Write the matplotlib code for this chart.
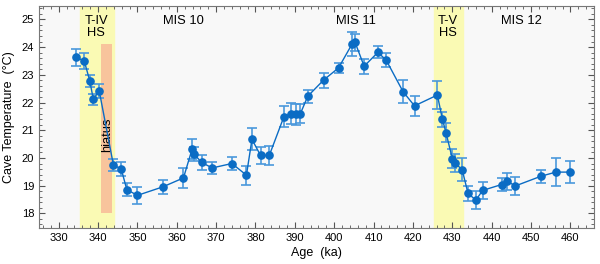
import matplotlib
matplotlib.use('Agg')
import matplotlib.pyplot as plt
from matplotlib.ticker import MultipleLocator

plt.rcParams['font.family'] = ['Liberation Sans', 'DejaVu Sans']

# Idade (ka), temperatura (°C) e incerteza
idade = [334.4, 336.5, 337.9, 338.8, 340.3, 343.9, 345.9, 347.3, 350.0, 356.5,
         361.7, 363.9, 364.4, 366.3, 369.0, 374.0, 377.7, 379.1, 381.3, 383.5,
         387.2, 389.1, 390.2, 391.4, 393.3, 397.3, 401.1, 404.5, 405.3, 407.6,
         411.1, 413.2, 417.5, 420.4, 426.2, 427.5, 428.4, 430.0, 430.7, 432.5,
         434.0, 436.0, 437.7, 442.5, 444.0, 446.0, 452.5, 456.3, 460.0]
temp = [23.63, 23.50, 22.78, 22.12, 22.42, 19.75, 19.60, 18.86, 18.65, 18.96,
        19.28, 20.32, 20.14, 19.84, 19.64, 19.80, 19.38, 20.67, 20.09, 20.09,
        21.48, 21.60, 21.57, 21.60, 22.23, 22.81, 23.25, 24.10, 24.17, 23.31,
        23.81, 23.53, 22.39, 21.88, 22.27, 21.39, 20.91, 19.98, 19.81, 19.58,
        18.72, 18.48, 18.83, 19.04, 19.16, 18.99, 19.34, 19.49, 19.49]
erro = [0.31, 0.30, 0.21, 0.20, 0.25, 0.23, 0.24, 0.22, 0.31, 0.25,
        0.36, 0.37, 0.25, 0.28, 0.22, 0.25, 0.34, 0.40, 0.30, 0.33,
        0.38, 0.37, 0.37, 0.33, 0.24, 0.27, 0.17, 0.43, 0.32, 0.27,
        0.22, 0.24, 0.41, 0.35, 0.52, 0.28, 0.35, 0.35, 0.33, 0.42,
        0.26, 0.33, 0.31, 0.22, 0.30, 0.34, 0.23, 0.50, 0.41]

# Faixas de terminação e hiato
faixas_ts = [(335.5, 344.0), (425.3, 432.8)]
hiato = (340.7, 343.5, 18.0, 24.1)

# Rótulos dos estágios
rotulos = ['T-IV\nHS', 'MIS 10', 'MIS 11', 'T-V\nHS', 'MIS 12']
rotulos_x = [339.5, 361.7, 405.4, 428.8, 447.5]

azul = '#0b6cc4'
azul_erro = '#4a98dc'

fig = plt.figure(figsize=(6.0, 2.64), dpi=100)
ax = fig.add_axes([0.065, 0.136, 0.925, 0.841])
ax.set_facecolor('#f8f8f8')

for x0, x1 in faixas_ts:
    ax.axvspan(x0, x1, color='#fafab4', zorder=0)
ax.fill_between([hiato[0], hiato[1]], hiato[2], hiato[3], color='#f8c49c', zorder=1, linewidth=0)
ax.text((hiato[0] + hiato[1]) / 2 + 0.2, 20.85, 'hiatus', rotation=90, ha='center', va='center', fontsize=9.3)

ax.errorbar(idade, temp, yerr=erro, fmt='none', ecolor=azul_erro, elinewidth=1.2,
            capsize=3.3, capthick=1.2, zorder=2)
ax.plot(idade, temp, color=azul, linewidth=1.0, marker='o', markersize=5.2, zorder=3)

for txt, x in zip(rotulos, rotulos_x):
    ax.text(x, 25.17, txt, ha='center', va='top', fontsize=9.3, linespacing=1.0)

ax.set_xlim(325, 466)
ax.set_ylim(17.47, 25.48)
ax.xaxis.set_major_locator(MultipleLocator(10))
ax.xaxis.set_minor_locator(MultipleLocator(2))
ax.yaxis.set_major_locator(MultipleLocator(1))
ax.yaxis.set_minor_locator(MultipleLocator(0.2))
ax.tick_params(which='both', direction='in', top=True, right=True, labelsize=8, color='#555555')
ax.tick_params(which='major', length=4)
ax.tick_params(which='minor', length=2)
for s in ax.spines.values():
    s.set_color('#777777')

ax.set_xlabel('Age  (ka)', fontsize=9, labelpad=3)
ax.set_ylabel('Cave Temperature  (°C)', fontsize=9, labelpad=5)

plt.savefig('out.png', dpi=100)
